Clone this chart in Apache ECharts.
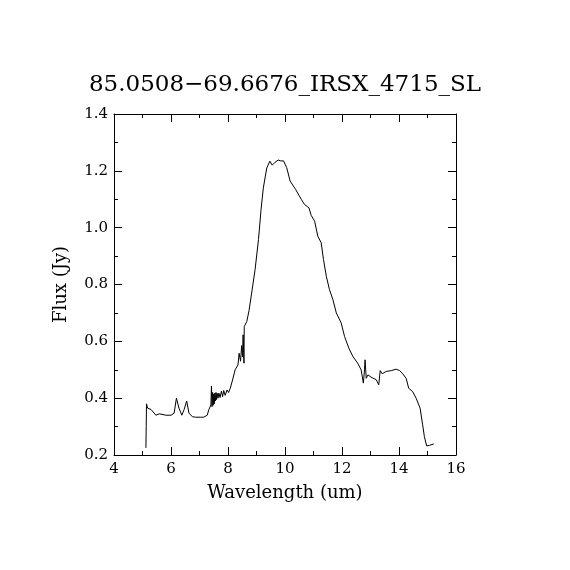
<!DOCTYPE html>
<html>
<head>
<meta charset="utf-8">
<script src="https://cdn.jsdelivr.net/npm/echarts@6/dist/echarts.min.js"></script>
<style>
  html, body { margin: 0; padding: 0; background: #fff; }
  #chart { width: 570px; height: 570px; }
</style>
</head>
<body>
<div id="chart"></div>
<script>
// spectrum
var wavelength = [
  5.12, 5.13, 5.14, 5.18, 5.30, 5.47, 5.59, 5.82, 6.00, 6.11, 6.19, 6.28, 6.38, 6.46, 6.55,
  6.63, 6.75, 6.86, 6.92, 7.04, 7.15, 7.27, 7.33, 7.40, 7.42, 7.44, 7.46, 7.48, 7.50, 7.52,
  7.54, 7.56, 7.58, 7.60, 7.62, 7.65, 7.68, 7.72, 7.77, 7.81, 7.85, 7.90, 7.97, 8.02, 8.08,
  8.16, 8.25, 8.35, 8.39, 8.44, 8.48, 8.51, 8.53, 8.55, 8.56, 8.57, 8.66, 8.74, 8.83, 8.95,
  9.07, 9.16, 9.24, 9.36, 9.47, 9.55, 9.65, 9.76, 9.85, 9.95, 10.06, 10.18, 10.37, 10.57,
  10.68, 10.84, 10.92, 11.04, 11.15, 11.27, 11.35, 11.45, 11.56, 11.68, 11.80, 11.97, 12.09,
  12.24, 12.38, 12.55, 12.67, 12.75, 12.79, 12.81, 12.85, 12.91, 13.02, 13.20, 13.29, 13.34,
  13.41, 13.55, 13.73, 13.90, 14.02, 14.13, 14.25, 14.34, 14.48, 14.60, 14.74, 14.83, 14.89,
  14.97, 15.07, 15.13, 15.22
];
var flux = [
  0.225, 0.30, 0.38, 0.365, 0.36, 0.34, 0.345, 0.34, 0.34, 0.347, 0.40, 0.365, 0.34, 0.36, 0.39,
  0.347, 0.335, 0.333, 0.326, 0.333, 0.333, 0.34, 0.36, 0.376, 0.443, 0.37, 0.42, 0.375, 0.415, 0.38,
  0.418, 0.39, 0.42, 0.395, 0.417, 0.40, 0.418, 0.402, 0.425, 0.405, 0.427, 0.41, 0.429, 0.42, 0.435,
  0.464, 0.50, 0.517, 0.558, 0.53, 0.585, 0.545, 0.623, 0.56, 0.523, 0.652, 0.67, 0.709, 0.77, 0.852,
  0.958, 1.064, 1.14, 1.21, 1.234, 1.22, 1.23, 1.238, 1.235, 1.235, 1.211, 1.164, 1.135, 1.10,
  1.082, 1.07, 1.043, 1.023, 0.97, 0.947, 0.888, 0.829, 0.782, 0.747, 0.70, 0.665, 0.617,
  0.576, 0.547, 0.523, 0.50, 0.453, 0.50, 0.535, 0.47, 0.482, 0.474, 0.465, 0.447, 0.497,
  0.486, 0.494, 0.497, 0.502, 0.497, 0.486, 0.47, 0.435, 0.423, 0.40, 0.365, 0.306, 0.265,
  0.232, 0.234, 0.239, 0.239
];
var titleText = '85.0508\u221269.6676_IRSX_4715_SL';

var points = wavelength.map(function (w, i) { return [w, flux[i]]; });

var font = '"DejaVu Serif", "Liberation Serif", serif';
var tickStyle = { show: true, inside: true, length: 8, lineStyle: { color: '#000', width: 1 } };
var minorStyle = { show: true, splitNumber: 2, length: 4, lineStyle: { color: '#000', width: 1 } };
var lineStyle = { show: true, lineStyle: { color: '#000', width: 1 } };

var chart = echarts.init(document.getElementById('chart'));
chart.setOption({
  animation: false,
  backgroundColor: '#fff',
  title: {
    text: titleText,
    left: 'center',
    top: 69,
    textStyle: { fontFamily: font, fontWeight: 'normal', fontSize: 23, color: '#000' }
  },
  grid: { left: 114, right: 114, top: 114, bottom: 115, show: false },
  xAxis: [
    {
      type: 'value', min: 4, max: 16, interval: 2,
      name: 'Wavelength (um)', nameLocation: 'middle', nameGap: 29,
      nameTextStyle: { fontFamily: font, fontSize: 18, color: '#000' },
      axisLine: lineStyle, axisTick: tickStyle, minorTick: minorStyle,
      splitLine: { show: false },
      axisLabel: { fontFamily: font, fontSize: 15, color: '#000', margin: 7 }
    },
    {
      type: 'value', min: 4, max: 16, interval: 2, position: 'top',
      axisLine: lineStyle, axisTick: tickStyle, minorTick: minorStyle,
      splitLine: { show: false }, axisLabel: { show: false }
    }
  ],
  yAxis: [
    {
      type: 'value', min: 0.2, max: 1.4, interval: 0.2,
      name: 'Flux (Jy)', nameLocation: 'middle', nameGap: 44,
      nameTextStyle: { fontFamily: font, fontSize: 18, color: '#000' },
      axisLine: lineStyle, axisTick: tickStyle, minorTick: minorStyle,
      splitLine: { show: false },
      axisLabel: {
        fontFamily: font, fontSize: 15, color: '#000', margin: 6,
        formatter: function (v) { return v.toFixed(1); }
      }
    },
    {
      type: 'value', min: 0.2, max: 1.4, interval: 0.2, position: 'right',
      axisLine: lineStyle, axisTick: tickStyle, minorTick: minorStyle,
      splitLine: { show: false }, axisLabel: { show: false }
    }
  ],
  series: [{
    type: 'line',
    data: points,
    showSymbol: false,
    lineStyle: { color: '#000', width: 1 },
    itemStyle: { color: '#000' }
  }]
});
</script>
</body>
</html>
